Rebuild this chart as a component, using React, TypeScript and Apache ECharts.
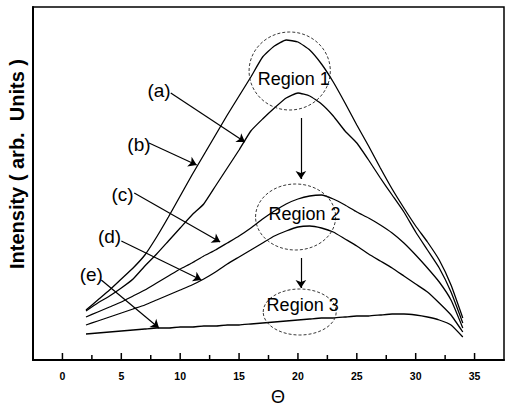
import React, { useEffect, useRef } from "react";
import * as echarts from "echarts";

// theta values (degrees)
const theta = [2, 3, 4, 5, 6, 7, 8, 9, 10, 11, 12, 13, 14, 15, 16, 17, 18, 19, 20, 21, 22, 23, 24, 25, 26, 27, 28, 29, 30, 31, 32, 33, 34];

// intensities (arb. units)
const curveA = [49, 57, 64, 72, 81, 94, 106, 119, 132, 145, 156, 174, 192, 210, 229, 241, 252, 262, 267, 264, 256, 244, 229, 217, 200, 182, 165, 148, 128, 110, 92, 68, 37];
const curveB = [50, 60, 70, 81, 92, 105, 123, 143, 164, 185, 205, 225, 245, 264, 283, 303, 314, 320, 318, 310, 296, 278, 257, 235, 214, 192, 171, 152, 134, 118, 100, 75, 42];
const curveC = [43, 48, 53, 58, 64, 70, 77, 84, 91, 97, 104, 110, 117, 124, 132, 141, 149, 156, 161, 164, 165, 161, 155, 148, 142, 135, 127, 117, 105, 92, 78, 60, 32];
const curveD = [35, 39, 43, 47, 51, 55, 60, 65, 70, 75, 81, 88, 96, 103, 110, 117, 124, 129, 133, 134, 132, 128, 121, 114, 106, 99, 92, 84, 76, 68, 57, 45, 28];
const curveE = [26, 27, 28, 29, 30, 31, 32, 32, 33, 33, 34, 34, 35, 35, 36, 37, 38, 39, 40, 41, 42, 42, 43, 44, 44, 45, 46, 46, 45, 43, 40, 35, 23];

const xMin = -2.5;
const xMax = 37.5;
const yMin = 0;
const yMax = 353;
// x-axis tick positions (major every 5, minor every 2.5)
const xMajorTicks = [0, 5, 10, 15, 20, 25, 30, 35];
const xMinorTicks = [2.5, 7.5, 12.5, 17.5, 22.5, 27.5, 32.5];

// curve labels: text, position (data coords)
const curveLabels = ["(a)", "(b)", "(c)", "(d)", "(e)"];
const curveLabelPos = [[8.2, 270], [6.5, 216], [5.1, 166], [4.0, 124], [2.45, 86]];
// arrows: from -> to (data coords)
const arrowFrom = [[9.2, 267], [7.35, 217], [6.1, 167], [5.0, 119], [3.3, 80], [20.25, 242], [20.25, 102]];
const arrowTo = [[15.5, 218], [11.4, 195], [13.4, 118], [11.8, 80], [8.2, 32], [20.25, 181], [20.25, 72]];

// regions: name, ellipse centre, radii (x in degrees, y in intensity)
const regionNames = ["Region 1", "Region 2", "Region 3"];
const regionTextPos = [[19.65, 281], [20.55, 146], [20.4, 55]];
const regionCenter = [[19.3, 289], [19.8, 143], [20.15, 48]];
const regionRadX = [3.45, 3.4, 3.1];
const regionRadY = [39, 33, 23];

const FONT = "'Liberation Sans', Arial, sans-serif";

export default function App() {
  const ref = useRef<HTMLDivElement>(null);

  useEffect(() => {
    document.body.style.margin = "0";
    const chart = echarts.init(ref.current!, null, { renderer: "svg" });

    const mk = (name: string, vals: number[]) => ({
      type: "line",
      name,
      data: theta.map((t, i) => [t, vals[i]]),
      symbol: "none",
      smooth: 0.15,
      lineStyle: { color: "#000", width: 1.3 },
      silent: true,
      z: 3,
    });

    const seriesE: any = mk("e", curveE);
    seriesE.markLine = {
      silent: true,
      symbol: ["none", "arrow"],
      symbolSize: 8,
      label: { show: false },
      lineStyle: { color: "#000", width: 1.2, type: "solid" },
      data: arrowFrom.map((f, i) => [{ coord: f }, { coord: arrowTo[i] }]),
    };

    chart.setOption({
      animation: false,
      grid: {
        left: 33,
        right: 1,
        top: 7,
        bottom: 47,
        show: true,
        borderColor: "#000",
        borderWidth: 1.5,
        backgroundColor: "transparent",
      },
      xAxis: {
        type: "value",
        min: xMin,
        max: xMax,
        interval: 2.5,
        axisLine: { show: true, onZero: false, lineStyle: { color: "#000", width: 2 } },
        axisTick: { show: false },
        axisLabel: {
          color: "#000",
          fontWeight: "bold",
          fontSize: 10.5,
          fontFamily: FONT,
          margin: 10,
          formatter: (v: number) => (xMajorTicks.indexOf(v) >= 0 ? String(v) : ""),
        },
        splitLine: { show: false },
      },
      yAxis: {
        type: "value",
        min: yMin,
        max: yMax,
        axisLine: { show: true, onZero: false, lineStyle: { color: "#000", width: 2 } },
        axisTick: { show: false },
        axisLabel: { show: false },
        splitLine: { show: false },
      },
      series: [mk("a", curveA), mk("b", curveB), mk("c", curveC), mk("d", curveD), seriesE],
    });

    const toPx = (p: number[]) => chart.convertToPixel({ gridIndex: 0 }, p) as number[];
    const graphics: any[] = [];

    // inward x-axis ticks
    const addTick = (v: number, len: number) => {
      const [x, y] = toPx([v, yMin]);
      graphics.push({
        type: "rect",
        shape: { x: x - 0.75, y: y - len, width: 1.5, height: len },
        style: { fill: "#000" },
        z: 20,
      });
    };
    xMajorTicks.forEach((v) => addTick(v, 7));
    xMinorTicks.forEach((v) => addTick(v, 5));

    curveLabels.forEach((t, i) => {
      const [x, y] = toPx(curveLabelPos[i]);
      graphics.push({
        type: "text",
        x,
        y,
        style: { text: t, fontSize: 19, fontFamily: FONT, fill: "#000", align: "center", verticalAlign: "middle" },
        z: 10,
      });
    });

    regionNames.forEach((t, i) => {
      const [cx, cy] = toPx(regionCenter[i]);
      const [ex] = toPx([regionCenter[i][0] + regionRadX[i], regionCenter[i][1]]);
      const [, ey] = toPx([regionCenter[i][0], regionCenter[i][1] + regionRadY[i]]);
      graphics.push({
        type: "ellipse",
        shape: { cx, cy, rx: Math.abs(ex - cx), ry: Math.abs(cy - ey) },
        style: { fill: "none", stroke: "#222", lineWidth: 0.9, lineDash: [3, 2] },
        z: 9,
      });
      const [tx, ty] = toPx(regionTextPos[i]);
      graphics.push({
        type: "text",
        x: tx,
        y: ty,
        style: { text: t, fontSize: 18, fontFamily: FONT, fill: "#000", align: "center", verticalAlign: "middle" },
        z: 10,
      });
    });

    graphics.push({
      type: "text",
      x: 278,
      y: 397,
      style: { text: "Θ", fontSize: 18, fontFamily: FONT, fill: "#000", align: "center", verticalAlign: "middle" },
    });
    graphics.push({
      type: "text",
      x: 17,
      y: 164,
      rotation: Math.PI / 2,
      style: {
        text: "Intensity ( arb.  Units )",
        fontSize: 20,
        fontWeight: "bold",
        fontFamily: FONT,
        fill: "#000",
        align: "center",
        verticalAlign: "middle",
      },
    });

    chart.setOption({ graphic: graphics });

    return () => chart.dispose();
  }, []);

  return <div ref={ref} style={{ width: 507, height: 407 }} />;
}
